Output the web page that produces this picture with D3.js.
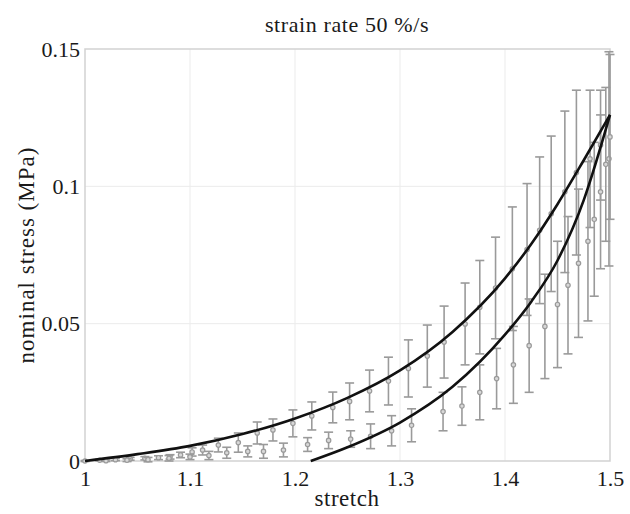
<!DOCTYPE html>
<html>
<head>
<meta charset="utf-8">
<script src="https://d3js.org/d3.v7.min.js"></script>
<style>
	body { margin: 0; background: #fff; }
	svg text { font-family: "Liberation Serif", "DejaVu Serif", serif; fill: #1a1a1a; }
</style>
</head>
<body>
<div id="area"></div>
<script>

/**
* DATA
* ====
*
* Values.
*/
var x_ticks = [1, 1.1, 1.2, 1.3, 1.4, 1.5];
var y_ticks = [0, 0.05, 0.1, 0.15];
var x_tick_labels = ['1', '1.1', '1.2', '1.3', '1.4', '1.5'];
var y_tick_labels = ['0', '0.05', '0.1', '0.15'];

//Loading measurements: stretch, mean stress, error
var load_stretch = [1.000, 1.014, 1.029, 1.043, 1.057, 1.070, 1.081, 1.091, 1.102, 1.112,
	1.127, 1.146, 1.164, 1.179, 1.198, 1.216, 1.236, 1.252, 1.271, 1.289,
	1.308, 1.326, 1.342, 1.362, 1.376, 1.391, 1.407, 1.421, 1.433, 1.444,
	1.457, 1.468, 1.481, 1.491, 1.499];
var load_mean = [0.0000, 0.0003, 0.0005, 0.0008, 0.0010, 0.0012, 0.0015, 0.0022, 0.0033, 0.0040,
	0.0058, 0.0067, 0.0102, 0.0113, 0.0137, 0.0164, 0.0195, 0.0217, 0.0255, 0.0291,
	0.0337, 0.0382, 0.0433, 0.0499, 0.0560, 0.0630, 0.0700, 0.0770, 0.0840, 0.0900,
	0.0980, 0.1050, 0.1100, 0.1150, 0.1100];
var load_err = [0.0002, 0.0003, 0.0004, 0.0005, 0.0006, 0.0007, 0.0008, 0.0010, 0.0015, 0.0018,
	0.0025, 0.0035, 0.0040, 0.0040, 0.0049, 0.0051, 0.0056, 0.0067, 0.0076, 0.0087,
	0.0104, 0.0113, 0.0131, 0.0149, 0.0170, 0.0185, 0.0225, 0.0240, 0.0267, 0.0283,
	0.0294, 0.0300, 0.0250, 0.0200, 0.0390];

//Unloading measurements: stretch, mean stress, error
var unload_stretch = [1.500, 1.496, 1.491, 1.485, 1.479, 1.470, 1.460, 1.450, 1.438, 1.423,
	1.408, 1.392, 1.376, 1.359, 1.341, 1.311, 1.292, 1.272, 1.253, 1.232,
	1.212, 1.189, 1.170, 1.155, 1.135, 1.118, 1.100, 1.080, 1.060, 1.040, 1.020];
var unload_mean = [0.118, 0.108, 0.098, 0.088, 0.080, 0.072, 0.064, 0.057, 0.049, 0.042,
	0.035, 0.030, 0.025, 0.020, 0.018, 0.013, 0.011, 0.009, 0.008, 0.0075,
	0.006, 0.004, 0.0035, 0.0035, 0.003, 0.002, 0.0015, 0.001, 0.0005, 0.0003, 0.0001];
var unload_err = [0.030, 0.028, 0.028, 0.028, 0.029, 0.027, 0.025, 0.023, 0.019, 0.017,
	0.014, 0.011, 0.010, 0.007, 0.007, 0.006, 0.0055, 0.0045, 0.003, 0.003,
	0.0025, 0.0025, 0.0025, 0.002, 0.002, 0.0015, 0.001, 0.001, 0.0008, 0.0005, 0.0003];

//Model curves (black lines)
var fit_load_stretch = [1.00, 1.05, 1.10, 1.15, 1.20, 1.25, 1.30, 1.35, 1.40, 1.425, 1.45, 1.475, 1.50];
var fit_load_stress = [0.000, 0.0025, 0.0055, 0.0098, 0.0155, 0.0230, 0.0330, 0.0470, 0.0665, 0.0790, 0.0935, 0.1095, 0.1260];
var fit_unload_stretch = [1.215, 1.25, 1.30, 1.35, 1.40, 1.425, 1.45, 1.475, 1.50];
var fit_unload_stress = [0.000, 0.0050, 0.0140, 0.0270, 0.0460, 0.0580, 0.0730, 0.0950, 0.1260];


/**
* CHART MODULE
* ============
*
* Draws the stress-stretch chart into #area
*/
var Chart = (function(){

	var width = 630;
	var height = 514;
	var margin = { top: 49, right: 20, bottom: 53, left: 85 };
	var grid_color = '#ebebeb';
	var bar_color = '#9a9a9a';

	var x = d3.scaleLinear().domain([1, 1.5]).range([margin.left, width - margin.right]);
	var y = d3.scaleLinear().domain([0, 0.15]).range([height - margin.bottom, margin.top]);

	var draw = function(){

		var svg = d3.select('#area').append('svg')
			.attr('width', width).attr('height', height);

		//Grid lines
		svg.append('g').selectAll('line').data(x_ticks.slice(1, -1)).join('line')
			.attr('x1', function(d){ return x(d); }).attr('x2', function(d){ return x(d); })
			.attr('y1', y(0)).attr('y2', y(0.15))
			.attr('stroke', grid_color).attr('stroke-width', 1);
		svg.append('g').selectAll('line').data(y_ticks.slice(1, -1)).join('line')
			.attr('x1', x(1)).attr('x2', x(1.5))
			.attr('y1', function(d){ return y(d); }).attr('y2', function(d){ return y(d); })
			.attr('stroke', grid_color).attr('stroke-width', 1);

		//Frame
		svg.append('rect')
			.attr('x', x(1)).attr('y', y(0.15))
			.attr('width', x(1.5) - x(1)).attr('height', y(0) - y(0.15))
			.attr('fill', 'none').attr('stroke', '#d2d2d2').attr('stroke-width', 1.5);

		//Axes
		var x_axis = d3.axisBottom(x).tickValues(x_ticks).tickSize(0).tickPadding(9)
			.tickFormat(function(d, i){ return x_tick_labels[i]; });
		var y_axis = d3.axisLeft(y).tickValues(y_ticks).tickSize(0).tickPadding(5)
			.tickFormat(function(d, i){ return y_tick_labels[i]; });

		var gx = svg.append('g').attr('transform', 'translate(0,' + y(0) + ')').call(x_axis);
		var gy = svg.append('g').attr('transform', 'translate(' + x(1) + ',0)').call(y_axis);
		gx.select('.domain').remove();
		gy.select('.domain').remove();
		gx.selectAll('text').style('font-size', '22px');
		gy.selectAll('text').style('font-size', '22px');

		//Error bars for both series
		drawSeries(svg, load_stretch, load_mean, load_err);
		drawSeries(svg, unload_stretch, unload_mean, unload_err);

		//Model curves
		var line = d3.line()
			.x(function(d){ return x(d[0]); })
			.y(function(d){ return y(d[1]); })
			.curve(d3.curveMonotoneX);

		svg.append('path').datum(d3.zip(fit_load_stretch, fit_load_stress))
			.attr('d', line).attr('fill', 'none')
			.attr('stroke', '#111').attr('stroke-width', 2.6);
		svg.append('path').datum(d3.zip(fit_unload_stretch, fit_unload_stress))
			.attr('d', line).attr('fill', 'none')
			.attr('stroke', '#111').attr('stroke-width', 2.6);

		//Texts
		svg.append('text').attr('x', 347).attr('y', 32)
			.attr('text-anchor', 'middle').style('font-size', '22px')
			.style('letter-spacing', '0.6px')
			.text('strain rate 50 %/s');
		svg.append('text').attr('x', 347).attr('y', 506)
			.attr('text-anchor', 'middle').style('font-size', '23px')
			.style('letter-spacing', '0.5px')
			.text('stretch');
		svg.append('text')
			.attr('transform', 'translate(34,255) rotate(-90)')
			.attr('text-anchor', 'middle').style('font-size', '23px')
			.style('letter-spacing', '1px')
			.text('nominal stress (MPa)');
	}

	/**
	* drawSeries
	* ==========
	*
	* Gray error bars with caps and small circle markers
	*/
	var drawSeries = function(svg, xs, means, errs){

		var data = d3.zip(xs, means, errs);
		var g = svg.append('g').attr('stroke', bar_color).attr('stroke-width', 1.6);

		g.selectAll('line.bar').data(data).join('line').attr('class', 'bar')
			.attr('x1', function(d){ return x(d[0]); }).attr('x2', function(d){ return x(d[0]); })
			.attr('y1', function(d){ return y(d[1] - d[2]); })
			.attr('y2', function(d){ return y(d[1] + d[2]); });

		g.selectAll('line.top').data(data).join('line').attr('class', 'top')
			.attr('x1', function(d){ return x(d[0]) - 4.5; }).attr('x2', function(d){ return x(d[0]) + 4.5; })
			.attr('y1', function(d){ return y(d[1] + d[2]); })
			.attr('y2', function(d){ return y(d[1] + d[2]); });

		g.selectAll('line.bottom').data(data).join('line').attr('class', 'bottom')
			.attr('x1', function(d){ return x(d[0]) - 4.5; }).attr('x2', function(d){ return x(d[0]) + 4.5; })
			.attr('y1', function(d){ return y(d[1] - d[2]); })
			.attr('y2', function(d){ return y(d[1] - d[2]); });

		g.selectAll('circle').data(data).join('circle')
			.attr('cx', function(d){ return x(d[0]); })
			.attr('cy', function(d){ return y(d[1]); })
			.attr('r', 2.2).attr('fill', '#d8d8d8').attr('stroke-width', 1.2);
	}

	return {
		init: function(){
			draw();
		}
	};
})();

Chart.init();

</script>
</body>
</html>
